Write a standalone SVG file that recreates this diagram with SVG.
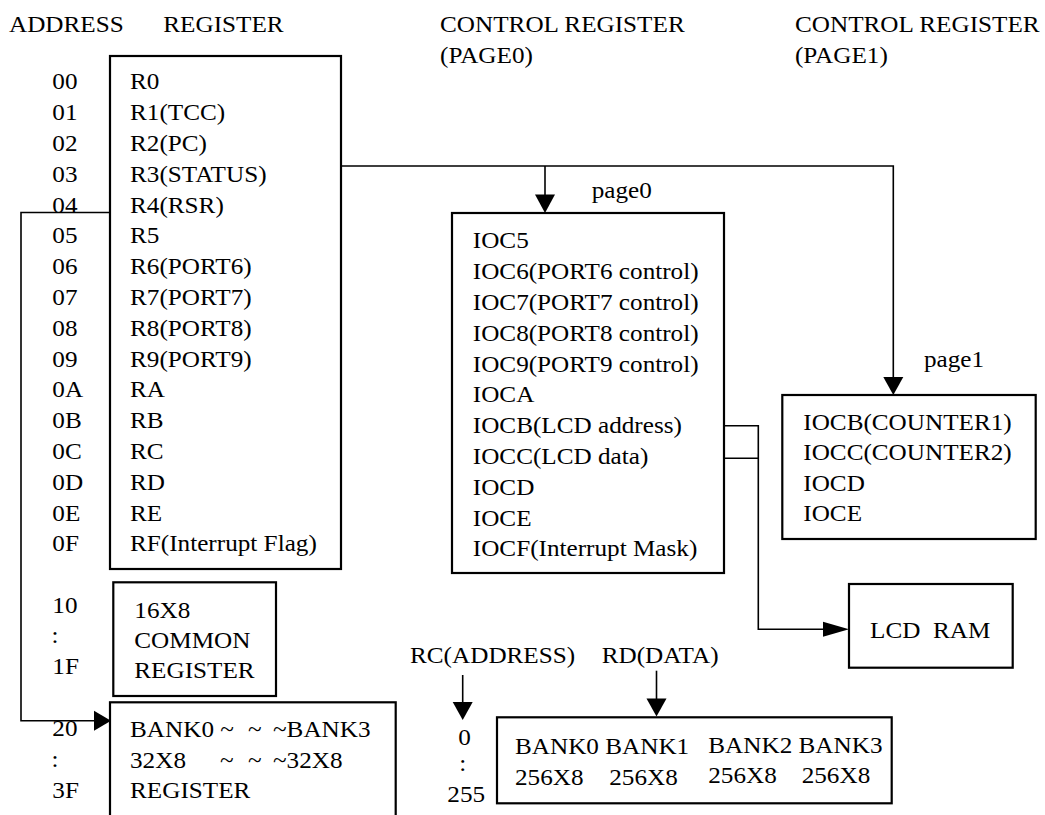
<svg xmlns="http://www.w3.org/2000/svg" width="1045" height="815" viewBox="0 0 1045 815">
<style>
  text { font-family: "Liberation Serif", "Times New Roman", serif; font-size: 22.5px; fill: #000; }
  .box { fill: #fff; stroke: #000; stroke-width: 2.2; }
  .line { fill: none; stroke: #000; stroke-width: 1.6; }
  .head { fill: #000; stroke: none; }
</style>
<rect width="1045" height="815" fill="#fff"/>

<g id="headers" transform="scale(1.12 1)">
  <text x="8" y="31.7">ADDRESS</text>
  <text x="145.8" y="31.7">REGISTER</text>
  <text x="392.9" y="31.7">CONTROL REGISTER</text>
  <text x="392.9" y="63">(PAGE0)</text>
  <text x="709.8" y="31.7">CONTROL REGISTER</text>
  <text x="709.8" y="63">(PAGE1)</text>
</g>

<g id="connectors">
  <polyline class="line" points="341,166 893.3,166 893.3,380"/>
  <line class="line" x1="545" y1="166" x2="545" y2="197"/>
  <polygon class="head" points="545,213 535,194.5 555,194.5"/>
  <polygon class="head" points="893.3,395 883.3,377 903.3,377"/>
  <polyline class="line" points="113,212.5 21,212.5 21,720.7 96,720.7"/>
  <polygon class="head" points="111,720.7 94,710.7 94,730.7"/>
  <polyline class="line" points="724,425.7 758.3,425.7 758.3,629.3 826,629.3"/>
  <line class="line" x1="724" y1="458.3" x2="758.3" y2="458.3"/>
  <polygon class="head" points="849,629.3 823,621.8 823,636.8"/>
  <line class="line" x1="462.7" y1="675" x2="462.7" y2="704"/>
  <polygon class="head" points="462.7,720 452.7,702 472.7,702"/>
  <line class="line" x1="656.5" y1="670.7" x2="656.5" y2="700"/>
  <polygon class="head" points="656.5,716.5 646.5,698.5 666.5,698.5"/>
</g>

<g id="address-column" transform="scale(1.12 1)">
  <text x="46.7" y="89.5">00</text>
  <text x="46.7" y="120.3">01</text>
  <text x="46.7" y="151.1">02</text>
  <text x="46.7" y="181.9">03</text>
  <text x="46.7" y="212.7">04</text>
  <text x="46.7" y="243.5">05</text>
  <text x="46.7" y="274.3">06</text>
  <text x="46.7" y="305.1">07</text>
  <text x="46.7" y="335.9">08</text>
  <text x="46.7" y="366.7">09</text>
  <text x="46.7" y="397.5">0A</text>
  <text x="46.7" y="428.3">0B</text>
  <text x="46.7" y="459.1">0C</text>
  <text x="46.7" y="489.9">0D</text>
  <text x="46.7" y="520.7">0E</text>
  <text x="46.7" y="551.5">0F</text>
  <text x="46.7" y="613.3">10</text>
  <text x="46" y="643.5">:</text>
  <text x="46.7" y="674.3">1F</text>
  <text x="46.7" y="736">20</text>
  <text x="46" y="767">:</text>
  <text x="46.7" y="798.3">3F</text>
</g>

<g id="register">
  <rect class="box" x="110" y="56" width="231" height="513"/>
  <g transform="scale(1.12 1)">
    <text x="116.1" y="89.5">R0</text>
    <text x="116.1" y="120.3">R1(TCC)</text>
    <text x="116.1" y="151.1">R2(PC)</text>
    <text x="116.1" y="181.9">R3(STATUS)</text>
    <text x="116.1" y="212.7">R4(RSR)</text>
    <text x="116.1" y="243.5">R5</text>
    <text x="116.1" y="274.3">R6(PORT6)</text>
    <text x="116.1" y="305.1">R7(PORT7)</text>
    <text x="116.1" y="335.9">R8(PORT8)</text>
    <text x="116.1" y="366.7">R9(PORT9)</text>
    <text x="116.1" y="397.5">RA</text>
    <text x="116.1" y="428.3">RB</text>
    <text x="116.1" y="459.1">RC</text>
    <text x="116.1" y="489.9">RD</text>
    <text x="116.1" y="520.7">RE</text>
    <text x="116.1" y="551.5">RF(Interrupt Flag)</text>
  </g>
</g>

<g id="common-register">
  <rect class="box" x="113.3" y="582.3" width="162.7" height="113.7"/>
  <g transform="scale(1.12 1)">
    <text x="119.9" y="617.7">16X8</text>
    <text x="119.9" y="648.3">COMMON</text>
    <text x="119.9" y="678.3">REGISTER</text>
  </g>
</g>

<g id="bank-register">
  <rect class="box" x="110" y="702.3" width="285.7" height="130"/>
  <g transform="scale(1.12 1)">
    <text x="116.1" y="737.3">BANK0 ~<tspan x="221.4">~</tspan><tspan x="243.75">~BANK3</tspan></text>
    <text x="116.1" y="768.3">32X8<tspan x="196.4">~</tspan><tspan x="221.4">~</tspan><tspan x="243.75">~32X8</tspan></text>
    <text x="116.1" y="798.3">REGISTER</text>
  </g>
</g>

<g id="page0">
  <rect class="box" x="452" y="213" width="272" height="360"/>
  <g transform="scale(1.12 1)">
    <text x="528.3" y="198.3">page0</text>
    <text x="422.1" y="248.5">IOC5</text>
    <text x="422.1" y="279.3">IOC6(PORT6 control)</text>
    <text x="422.1" y="310.1">IOC7(PORT7 control)</text>
    <text x="422.1" y="340.9">IOC8(PORT8 control)</text>
    <text x="422.1" y="371.7">IOC9(PORT9 control)</text>
    <text x="422.1" y="402.5">IOCA</text>
    <text x="422.1" y="433.3">IOCB(LCD address)</text>
    <text x="422.1" y="464.1">IOCC(LCD data)</text>
    <text x="422.1" y="494.9">IOCD</text>
    <text x="422.1" y="525.7">IOCE</text>
    <text x="422.1" y="556.5">IOCF(Interrupt Mask)</text>
  </g>
</g>

<g id="page1">
  <rect class="box" x="782.3" y="395" width="253.4" height="144"/>
  <g transform="scale(1.12 1)">
    <text x="825" y="366.7">page1</text>
    <text x="717.2" y="430">IOCB(COUNTER1)</text>
    <text x="717.2" y="460.5">IOCC(COUNTER2)</text>
    <text x="717.2" y="491">IOCD</text>
    <text x="717.2" y="521.5">IOCE</text>
  </g>
</g>

<g id="lcd-ram">
  <rect class="box" x="849" y="584" width="163.7" height="83.7"/>
  <g transform="scale(1.12 1)">
    <text x="776.8" y="638.3" xml:space="preserve">LCD  RAM</text>
  </g>
</g>

<g id="lcd-labels" transform="scale(1.12 1)">
  <text x="366.1" y="663.3">RC(ADDRESS)</text>
  <text x="537.2" y="663.3">RD(DATA)</text>
  <text x="409.2" y="745">0</text>
  <text x="410" y="771">:</text>
  <text x="399.4" y="801.7">255</text>
</g>

<g id="lcd-banks">
  <rect class="box" x="497" y="717.3" width="394.7" height="86"/>
  <g transform="scale(1.12 1)">
    <text x="459.8" y="754.3">BANK0 BANK1</text>
    <text x="632.4" y="753">BANK2 BANK3</text>
    <text x="459.8" y="785">256X8</text>
    <text x="544" y="785">256X8</text>
    <text x="632.4" y="783.5">256X8</text>
    <text x="715.8" y="783.5">256X8</text>
  </g>
</g>
</svg>
